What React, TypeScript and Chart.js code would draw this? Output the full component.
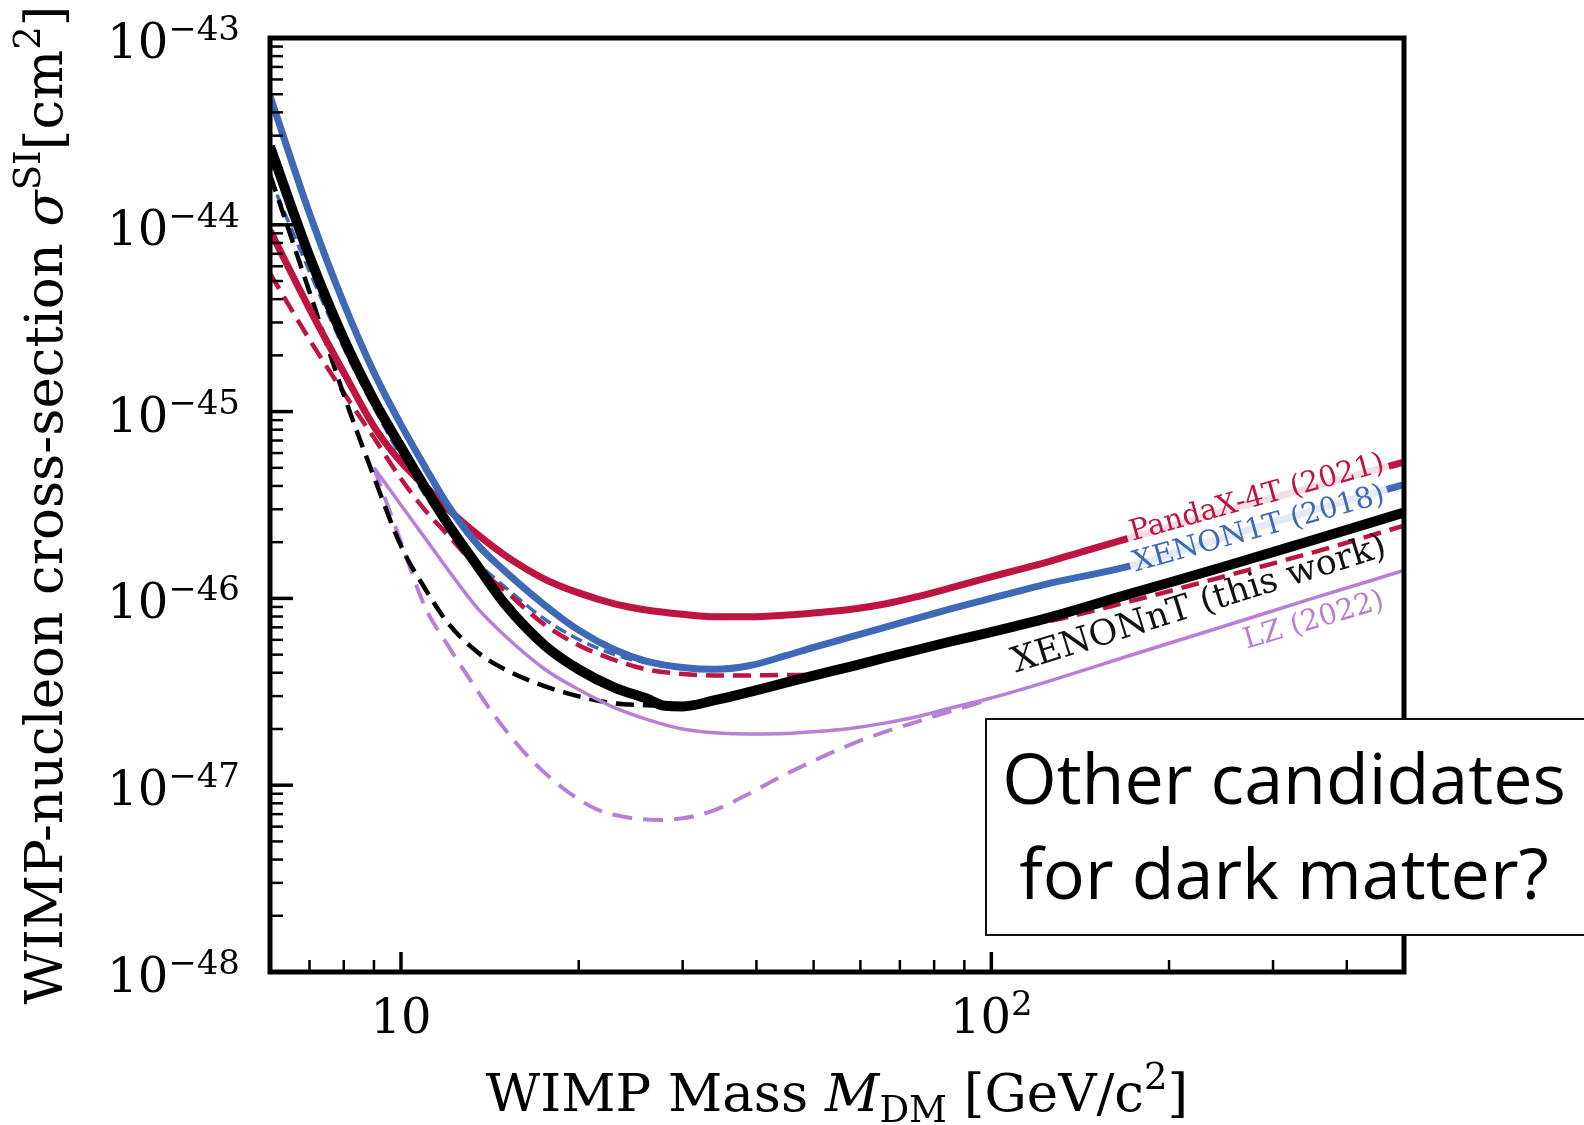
import React, { useEffect, useRef } from 'react';
import { Chart, registerables } from 'chart.js';

Chart.register(...registerables);

// ---------------- data (WIMP mass in GeV/c^2, cross-section in cm^2) ----------------
const massGrid = [6, 7, 8, 9, 10, 11, 12, 13.5, 15, 17.5, 20, 23, 26, 30, 34, 39, 45, 50, 58, 66, 75, 85, 97, 110, 126, 170, 250, 350, 500];

const xenon1tSigma = [4.90e-44, 1.15e-44, 3.80e-45, 1.62e-45, 8.51e-46, 5.01e-46, 3.16e-46, 1.93e-46, 1.40e-46, 9.23e-47, 6.76e-47, 5.31e-47, 4.62e-47, 4.27e-47, 4.17e-47, 4.37e-47, 4.95e-47, 5.47e-47, 6.24e-47, 7.00e-47, 7.85e-47, 8.75e-47, 9.77e-47, 1.084e-46, 1.208e-46, 1.48e-46, 2.14e-46, 2.95e-46, 4.07e-46];

const pandaxSigma = [9.33e-45, 3.55e-45, 1.62e-45, 8.32e-46, 5.37e-46, 3.98e-46, 3.02e-46, 2.19e-46, 1.70e-46, 1.27e-46, 1.07e-46, 9.35e-47, 8.67e-47, 8.22e-47, 7.98e-47, 7.98e-47, 8.15e-47, 8.36e-47, 8.75e-47, 9.33e-47, 1.023e-46, 1.135e-46, 1.274e-46, 1.413e-46, 1.585e-46, 2.09e-46, 2.95e-46, 3.94e-46, 5.37e-46];

const pandaxDashSigma = [5.50e-45, 2.43e-45, 1.26e-45, 7.24e-46, 4.37e-46, 2.95e-46, 2.19e-46, 1.46e-46, 1.10e-46, 7.24e-47, 5.62e-47, 4.68e-47, 4.17e-47, 3.94e-47, 3.87e-47, 3.87e-47, 3.89e-47, 3.89e-47, 4.27e-47, 4.79e-47, 5.37e-47, 5.96e-47, 6.61e-47, 7.08e-47, 7.59e-47, 9.55e-47, 1.32e-46, 1.76e-46, 2.45e-46];

const xenonntMass = [6, 7, 8, 9, 10, 11, 12, 13.5, 15, 17.5, 20, 23, 26, 28, 30, 34, 39, 45, 50, 58, 66, 75, 85, 97, 110, 126, 170, 250, 350, 500];
const xenonntSigma = [2.63e-44, 6.76e-45, 2.45e-45, 1.15e-45, 6.46e-46, 3.89e-46, 2.51e-46, 1.48e-46, 9.33e-47, 5.62e-47, 4.17e-47, 3.33e-47, 2.92e-47, 2.66e-47, 2.64e-47, 2.85e-47, 3.16e-47, 3.55e-47, 3.86e-47, 4.33e-47, 4.81e-47, 5.31e-47, 5.86e-47, 6.46e-47, 7.11e-47, 7.94e-47, 1.047e-46, 1.49e-46, 2.05e-46, 2.88e-46];

const xenonntDashMass = [6, 7, 8, 9, 10, 11, 12, 13.5, 15, 17.5, 20, 23, 26, 28];
const xenonntDashSigma = [1.86e-44, 4.37e-45, 1.23e-45, 4.47e-46, 1.91e-46, 1.12e-46, 7.41e-47, 5.13e-47, 4.17e-47, 3.39e-47, 2.99e-47, 2.74e-47, 2.68e-47, 2.66e-47];

const xenon1tDashMass = [6, 7, 8, 9, 10, 11, 12, 13.5, 15, 17.5, 20, 23, 26, 30, 34, 40];
const xenon1tDashSigma = [1.78e-44, 5.62e-45, 2.19e-45, 1.05e-45, 5.75e-46, 3.55e-46, 2.40e-46, 1.55e-46, 1.15e-46, 7.76e-47, 6.03e-47, 5.01e-47, 4.52e-47, 4.22e-47, 4.17e-47, 4.47e-47];

const lzMass = [9, 10, 11, 12, 13.5, 15, 17.5, 20, 23, 26, 30, 34, 39, 45, 50, 58, 66, 75, 85, 97, 110, 126, 170, 250, 350, 500];
const lzSigma = [5.01e-46, 3.16e-46, 2.09e-46, 1.43e-46, 8.81e-47, 6.31e-47, 4.19e-47, 3.25e-47, 2.60e-47, 2.26e-47, 2.00e-47, 1.91e-47, 1.88e-47, 1.89e-47, 1.93e-47, 2.02e-47, 2.15e-47, 2.33e-47, 2.58e-47, 2.86e-47, 3.19e-47, 3.63e-47, 4.90e-47, 7.16e-47, 1.0e-46, 1.41e-46];

const lzDashMass = [9, 10, 11, 12, 13, 14.5, 16.5, 19, 21.5, 24.5, 27.5, 30, 34, 39, 44, 50, 58, 66, 75, 85, 97];
const lzDashSigma = [5.01e-46, 2.00e-46, 8.91e-47, 5.62e-47, 3.80e-47, 2.29e-47, 1.40e-47, 9.42e-48, 7.41e-48, 6.68e-48, 6.52e-48, 6.65e-48, 7.36e-48, 9.06e-48, 1.11e-47, 1.35e-47, 1.66e-47, 1.93e-47, 2.19e-47, 2.48e-47, 2.81e-47];

// axis ranges and ticks
const xMin = 6;
const xMax = 500;
const yMin = 1e-48;
const yMax = 1e-43;
const yTickExponents = [-48, -47, -46, -45, -44, -43];
const yTickSup = ['\u221248', '\u221247', '\u221246', '\u221245', '\u221244', '\u221243'];
const xMajorTicks = [10, 100];
const xTickBase = ['10', '10'];
const xTickSup = ['', '2'];
const minorMultipliers = [2, 3, 4, 5, 6, 7, 8, 9];

const seriesNames = ['PandaX-4T (2021)', 'XENON1T (2018)', 'XENONnT (this work)', 'LZ (2022)'];
const yTitleParts = ['WIMP-nucleon cross-section ', '\u03c3', 'SI', '[cm', '2', ']'];
const xTitleParts = ['WIMP Mass ', 'M', 'DM', ' [GeV/c', '2', ']'];
const boxLines = ['Other candidates', 'for dark matter?'];

// ---------------- styles ----------------
const RED = '#bd1440';
const BLUE = '#3e69b6';
const PURPLE = '#b77fd6';
const SERIF = '"DejaVu Serif"';

const labelStyles = [
  { mass: 282, sigma: 3.43e-46, angle: -15.5, color: RED, size: 29, box: true },
  { mass: 284, sigma: 2.34e-46, angle: -15.5, color: BLUE, size: 29, box: true },
  { mass: 225, sigma: 9.2e-47, angle: -17.5, color: '#111', size: 35, box: false },
  { mass: 352, sigma: 7.57e-47, angle: -16.5, color: PURPLE, size: 29, box: false },
];

type Seg = { t: string; font: string; dy?: number };

function drawRich(ctx: CanvasRenderingContext2D, segs: Seg[], x0: number, y0: number, align: 'left' | 'center' | 'right') {
  let total = 0;
  for (const s of segs) {
    ctx.font = s.font;
    total += ctx.measureText(s.t).width;
  }
  let x = align === 'center' ? x0 - total / 2 : align === 'right' ? x0 - total : x0;
  ctx.textAlign = 'left';
  ctx.textBaseline = 'alphabetic';
  for (const s of segs) {
    ctx.font = s.font;
    ctx.fillText(s.t, x, y0 + (s.dy || 0));
    x += ctx.measureText(s.t).width;
  }
}

const decorPlugin = {
  id: 'decor',
  afterDatasetsDraw(chart: any) {
    const { ctx, chartArea: a, scales } = chart;
    const xs = scales.x;
    const ys = scales.y;
    ctx.save();

    // inline series labels
    labelStyles.forEach((lab, i) => {
      const px = xs.getPixelForValue(lab.mass);
      const py = ys.getPixelForValue(lab.sigma);
      ctx.save();
      ctx.translate(px, py);
      ctx.rotate((lab.angle * Math.PI) / 180);
      ctx.font = `${lab.size}px ${SERIF}`;
      const w = ctx.measureText(seriesNames[i]).width;
      if (lab.box) {
        ctx.fillStyle = 'rgba(255,255,255,0.86)';
        ctx.fillRect(-w / 2 - 4, -lab.size * 0.55, w + 8, lab.size * 1.1);
      }
      ctx.fillStyle = lab.color;
      ctx.textAlign = 'center';
      ctx.textBaseline = 'middle';
      ctx.fillText(seriesNames[i], 0, 0);
      ctx.restore();
    });

    // frame
    ctx.strokeStyle = '#000';
    ctx.lineWidth = 5;
    ctx.strokeRect(a.left, a.top, a.right - a.left, a.bottom - a.top);

    // y ticks (inward)
    ctx.lineCap = 'butt';
    for (const e of yTickExponents) {
      const major = Math.pow(10, e);
      if (major > yMin * 1.001 && major < yMax * 0.999) {
        const py = ys.getPixelForValue(major);
        ctx.lineWidth = 3.5;
        ctx.beginPath();
        ctx.moveTo(a.left, py);
        ctx.lineTo(a.left + 23, py);
        ctx.stroke();
      }
      for (const m of minorMultipliers) {
        const v = m * major;
        if (v <= yMin * 1.001 || v >= yMax * 0.999) continue;
        const py = ys.getPixelForValue(v);
        ctx.lineWidth = 2.5;
        ctx.beginPath();
        ctx.moveTo(a.left, py);
        ctx.lineTo(a.left + 13, py);
        ctx.stroke();
      }
    }
    // x ticks (inward)
    for (const e of [0, 1, 2]) {
      const major = Math.pow(10, e);
      for (const m of [1, ...minorMultipliers]) {
        const v = m * major;
        if (v <= xMin * 1.001 || v >= xMax * 0.999) continue;
        const px = xs.getPixelForValue(v);
        const isMajor = m === 1;
        ctx.lineWidth = isMajor ? 3.5 : 2.5;
        ctx.beginPath();
        ctx.moveTo(px, a.bottom);
        ctx.lineTo(px, a.bottom - (isMajor ? 20 : 12));
        ctx.stroke();
      }
    }

    // tick labels
    ctx.fillStyle = '#000';
    const big = `48px ${SERIF}`;
    const small = `34px ${SERIF}`;
    yTickExponents.forEach((e, i) => {
      const py = ys.getPixelForValue(Math.pow(10, e));
      drawRich(ctx, [{ t: '10', font: big }, { t: yTickSup[i], font: small, dy: -18 }], a.left - 30, py + 20, 'right');
    });
    xMajorTicks.forEach((v, i) => {
      const px = xs.getPixelForValue(v);
      const segs: Seg[] = [{ t: xTickBase[i], font: big }];
      if (xTickSup[i]) segs.push({ t: xTickSup[i], font: small, dy: -18 });
      drawRich(ctx, segs, px, a.bottom + 61, 'center');
    });

    // axis titles
    const tf = `53px ${SERIF}`;
    const tfi = `italic 53px ${SERIF}`;
    const ts = `37px ${SERIF}`;
    drawRich(
      ctx,
      [
        { t: xTitleParts[0], font: tf },
        { t: xTitleParts[1], font: tfi },
        { t: xTitleParts[2], font: ts, dy: 11 },
        { t: xTitleParts[3], font: tf },
        { t: xTitleParts[4], font: ts, dy: -22 },
        { t: xTitleParts[5], font: tf },
      ],
      (a.left + a.right) / 2,
      1111,
      'center'
    );
    ctx.save();
    ctx.translate(62, (a.top + a.bottom) / 2);
    ctx.rotate(-Math.PI / 2);
    drawRich(
      ctx,
      [
        { t: yTitleParts[0], font: tf },
        { t: yTitleParts[1], font: tfi },
        { t: yTitleParts[2], font: ts, dy: -22 },
        { t: yTitleParts[3], font: tf },
        { t: yTitleParts[4], font: ts, dy: -22 },
        { t: yTitleParts[5], font: tf },
      ],
      0,
      0,
      'center'
    );
    ctx.restore();

    // annotation box
    const bx = 986;
    const by = 719;
    const bw = 640;
    const bh = 216;
    ctx.fillStyle = '#fff';
    ctx.fillRect(bx, by, bw, bh);
    ctx.strokeStyle = '#111';
    ctx.lineWidth = 2;
    ctx.strokeRect(bx, by, bw, bh);
    ctx.fillStyle = '#000';
    ctx.font = '70px "Open Sans"';
    ctx.textAlign = 'center';
    ctx.textBaseline = 'alphabetic';
    ctx.fillText(boxLines[0], 1284, 804);
    ctx.fillText(boxLines[1], 1284, 899);

    ctx.restore();
  },
};

function pts(xsArr: number[], ysArr: number[]) {
  return xsArr.map((x, i) => ({ x, y: ysArr[i] }));
}

function line(data: any[], color: string, width: number, dash: number[] = []) {
  return {
    data,
    showLine: true,
    fill: false,
    borderColor: color,
    backgroundColor: color,
    borderWidth: width,
    borderDash: dash,
    pointRadius: 0,
    pointHoverRadius: 0,
    cubicInterpolationMode: 'monotone',
    clip: 0,
  };
}

export default function App() {
  const ref = useRef<HTMLCanvasElement | null>(null);
  useEffect(() => {
    if (!ref.current) return;
    // datasets listed top-most first (Chart.js draws the first dataset last)
    const datasets = [
      line(pts(xenonntMass, xenonntSigma), '#000', 10),
      line(pts(massGrid, xenon1tSigma), BLUE, 7),
      line(pts(massGrid, pandaxSigma), RED, 7),
      line(pts(lzMass, lzSigma), PURPLE, 3.5),
      line(pts(xenonntDashMass, xenonntDashSigma), '#000', 4.5, [18, 9]),
      line(pts(massGrid, pandaxDashSigma), RED, 4.5, [18, 9]),
      line(pts(xenon1tDashMass, xenon1tDashSigma), BLUE, 3.5, [12, 6]),
      line(pts(lzDashMass, lzDashSigma), PURPLE, 4, [20, 11]),
    ];
    const chart = new Chart(ref.current, {
      type: 'scatter',
      data: { datasets } as any,
      options: {
        responsive: false,
        animation: false,
        devicePixelRatio: 1,
        layout: { padding: { left: 270, top: 38, right: 180, bottom: 153 } },
        scales: {
          x: { type: 'logarithmic', min: xMin, max: xMax, display: false },
          y: { type: 'logarithmic', min: yMin, max: yMax, display: false },
        },
        plugins: { legend: { display: false }, tooltip: { enabled: false } },
        events: [],
      } as any,
      plugins: [decorPlugin as any],
    });
    return () => chart.destroy();
  }, []);
  return (
    <div style={{ position: 'absolute', left: 0, top: 0, width: 1584, height: 1125, background: '#fff' }}>
      <canvas ref={ref} width={1584} height={1125} style={{ display: 'block' }} />
    </div>
  );
}
